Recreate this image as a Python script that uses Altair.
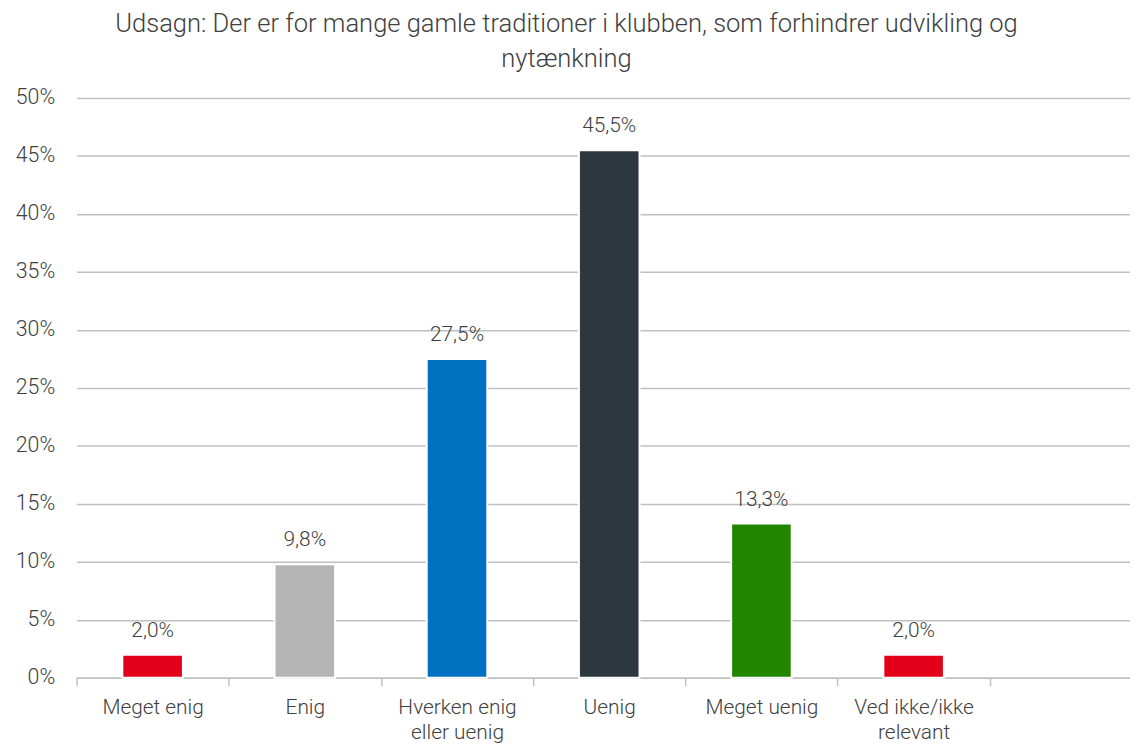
import altair as alt
import pandas as pd

categories = ["Meget enig", "Enig", "Hverken enig eller uenig", "Uenig",
              "Meget uenig", "Ved ikke/ikke relevant"]
values = [2.0, 9.8, 27.5, 45.5, 13.3, 2.0]
colors = ["#e2001a", "#b5b5b5", "#0070c0", "#2d373e", "#218500", "#e2001a"]
y_ticks = [0, 5, 10, 15, 20, 25, 30, 35, 40, 45, 50]
domain = categories + [" "]

df = pd.DataFrame({
    "cat": categories,
    "val": values,
    "label": [f"{v:.1f}".replace(".", ",") + "%" for v in values],
})

FONT = "Roboto"
TXT = "#404040"

x = alt.X(
    "cat:N",
    sort=domain,
    scale=alt.Scale(domain=domain, paddingInner=0, paddingOuter=0),
    axis=alt.Axis(
        title=None, labelAngle=0, tickBand="extent", ticks=True, tickSize=8,
        tickColor="#c0c0c0", tickWidth=1.5, domainColor="#c0c0c0", domainWidth=1.5,
        labelFont=FONT, labelFontSize=21, labelFontWeight=300, labelColor=TXT,
        labelPadding=11, labelLineHeight=25, labelBaseline="top",
        labelExpr="datum.label == 'Hverken enig eller uenig' ? ['Hverken enig', 'eller uenig'] : datum.label == 'Ved ikke/ikke relevant' ? ['Ved ikke/ikke', 'relevant'] : datum.label",
        grid=False,
    ),
)
y = alt.Y(
    "val:Q",
    scale=alt.Scale(domain=[0, 50], nice=False),
    axis=alt.Axis(
        title=None, values=y_ticks, labelExpr="datum.value + '%'",
        ticks=False, domain=False, grid=True, gridColor="#c0c0c0", gridWidth=1.5,
        labelFont=FONT, labelFontSize=21.5, labelFontWeight=300, labelColor=TXT,
        labelPadding=22,
    ),
)

bars = alt.Chart(df).mark_bar(size=61, stroke="white", strokeWidth=2).encode(
    x=x, y=y,
    color=alt.Color("cat:N", scale=alt.Scale(domain=categories, range=colors), legend=None),
)
text = alt.Chart(df).mark_text(
    dy=-18, baseline="alphabetic", font=FONT, fontSize=21, fontWeight=300, color=TXT
).encode(x=x, y=y, text="label:N")

chart = alt.layer(bars, text).properties(
    width=1073, height=584,
    autosize=alt.AutoSizeParams(type="none"),
    padding={"left": 69, "top": 88, "right": -12, "bottom": 66},
    title=alt.TitleParams(
        ["Udsagn: Der er for mange gamle traditioner i klubben, som forhindrer udvikling og", "nytænkning"],
        anchor="middle", dx=-43, offset=15, font=FONT, fontSize=25.7, fontWeight=300,
        color=TXT, lineHeight=35,
    ),
).configure_view(stroke=None)

chart.save("out.html", embed_options={"renderer": "svg", "actions": False})
